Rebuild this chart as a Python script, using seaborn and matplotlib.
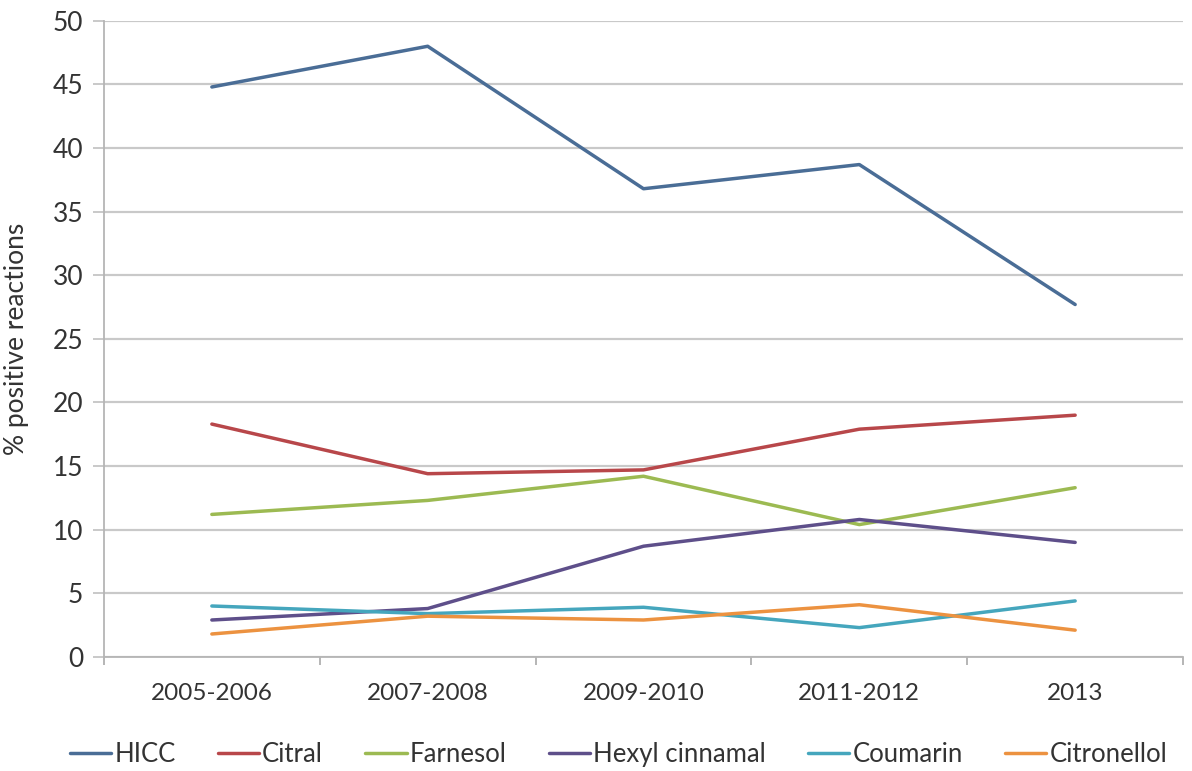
import matplotlib
matplotlib.use("Agg")
import matplotlib.pyplot as plt
import seaborn as sns
import pandas as pd
import numpy as np

periods = ["2005-2006", "2007-2008", "2009-2010", "2011-2012", "2013"]
hicc = [44.8, 48.0, 36.8, 38.7, 27.7]
citral = [18.3, 14.4, 14.7, 17.9, 19.0]
farnesol = [11.2, 12.3, 14.2, 10.4, 13.3]
hexyl_cinnamal = [2.9, 3.8, 8.7, 10.8, 9.0]
coumarin = [4.0, 3.4, 3.9, 2.3, 4.4]
citronellol = [1.8, 3.2, 2.9, 4.1, 2.1]

names = ["HICC", "Citral", "Farnesol", "Hexyl cinnamal", "Coumarin", "Citronellol"]
series = [hicc, citral, farnesol, hexyl_cinnamal, coumarin, citronellol]
colors = ["#4a6d96", "#b8474a", "#9cba52", "#5e4f8a", "#45a6bd", "#ec9240"]

rows = []
for name, vals in zip(names, series):
    for i, v in enumerate(vals):
        rows.append({"period": i, "allergen": name, "value": v})
df = pd.DataFrame(rows)

sns.set_theme(style="white")
plt.rcParams["font.family"] = ["Lato", "DejaVu Sans"]

text_color = "#333333"

fig = plt.figure(figsize=(11.92, 7.71), dpi=100)
ax = fig.add_axes([0.0872, 0.148, 0.9053, 0.825])

sns.lineplot(data=df, x="period", y="value", hue="allergen", hue_order=names,
             palette=colors, linewidth=2.5, ax=ax, legend=True, sort=False)

ax.set_xlim(-0.5, 4.5)
ax.set_ylim(0, 50)
ax.set_yticks(np.arange(0, 51, 5))
ax.yaxis.grid(True, color="#c9c9c9", linewidth=1.6)
ax.set_axisbelow(True)

ax.set_xticks(range(len(periods)))
ax.set_xticklabels(periods)
ax.set_xticks(np.arange(-0.5, 4.6, 1), minor=True)
ax.tick_params(axis="x", which="major", length=0, pad=19, labelsize=17.5, labelcolor=text_color)
ax.tick_params(axis="x", which="minor", length=6, width=1.3, color="#b0b0b0", direction="out", bottom=True)
ax.tick_params(axis="y", which="major", length=8, width=1.4, color="#c9c9c9", direction="out",
               left=True, pad=7, labelsize=19, labelcolor=text_color)

for side in ["top", "right"]:
    ax.spines[side].set_visible(False)
for side in ["left", "bottom"]:
    ax.spines[side].set_color("#b5b5b5")
    ax.spines[side].set_linewidth(1.3)

ax.set_xlabel("")
ax.set_ylabel("% positive reactions", fontsize=19, color=text_color)
ax.yaxis.set_label_coords(-0.069, 0.5)

handles, labels = ax.get_legend_handles_labels()
ax.legend(handles, labels, loc="lower center", bbox_to_anchor=(0.477, -0.21),
          ncol=6, frameon=False, fontsize=18.5, handlelength=1.6, handletextpad=0.12,
          columnspacing=1.65, labelcolor=text_color)

fig.savefig("out.png", dpi=100)
